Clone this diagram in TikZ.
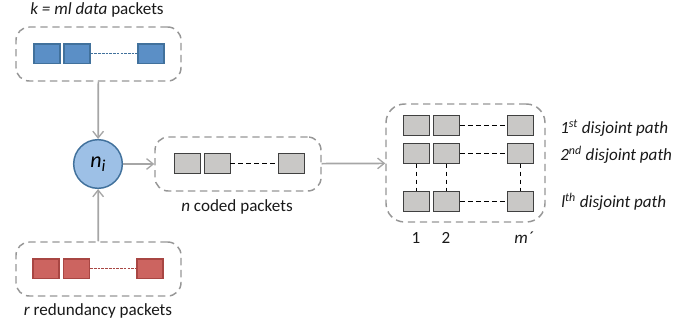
\documentclass[tikz,border=0pt]{standalone}
\usepackage{fontspec}
\setmainfont{Carlito}
\usetikzlibrary{arrows.meta}
\definecolor{grayline}{HTML}{A6A6A6}
\definecolor{dashline}{HTML}{969696}
\definecolor{bluefill}{HTML}{5B8FC6}
\definecolor{blueline}{HTML}{41719C}
\definecolor{redfill}{HTML}{CC6460}
\definecolor{redline}{HTML}{A84643}
\definecolor{grayfill}{HTML}{C9C8C6}
\definecolor{circfill}{HTML}{9DC0E6}
\tikzset{
  x=0.75pt,y=-0.75pt,
  group/.style={draw=dashline,line width=1.1pt,dash pattern=on 5.5pt off 3.5pt,rounded corners=10pt,inner sep=0,minimum width=#1*0.75pt},
  bluepk/.style={draw=blueline,fill=bluefill,line width=1pt,inner sep=0,minimum width=19.5pt,minimum height=14.5pt},
  redpk/.style={draw=redline,fill=redfill,line width=1pt,inner sep=0,minimum width=19.5pt,minimum height=14.5pt},
  graypk/.style={draw=black!75,fill=grayfill,line width=0.7pt,inner sep=0,minimum width=19.5pt,minimum height=14.5pt},
  flow/.style={draw=grayline,line width=1.3pt,-{Straight Barb[length=5pt,width=8pt,line width=1pt]}},
  link/.style={black,line width=0.95pt,dash pattern=on 3.6pt off 2.4pt},
  bluelink/.style={blueline,line width=0.8pt,dash pattern=on 2pt off 0.8pt},
  redlink/.style={redline,line width=0.8pt,dash pattern=on 2pt off 0.8pt},
  lab/.style={inner sep=0,text=black!90,font=\fontsize{12.8}{15}\selectfont},
}
\begin{document}
\begin{tikzpicture}
\useasboundingbox (0,0) rectangle (700,325);
% groups
\node[group=165,minimum height=40.5pt] (top) at (98.5,54) {};
\node[group=166,minimum height=40.5pt] (cod) at (238,164) {};
\node[group=165,minimum height=40.5pt] (red) at (98.5,269) {};
\node[group=159,minimum height=88.5pt,rounded corners=14pt] (big) at (465.5,163) {};
% circle
\node[circle,draw=blueline,fill=circfill,line width=1.1pt,minimum size=36.5pt,inner sep=0] (ni) at (98,164) {\fontsize{16.5}{18}\selectfont\textit{n}\raisebox{-3pt}{\fontsize{12.5}{15}\selectfont\textit{i}}};
% blue
\node[bluepk] (b1) at (47,53.5) {};
\node[bluepk] (b2) at (77,53.5) {};
\node[bluepk] (b3) at (151,53.5) {};
\draw[bluelink] (b2) -- (b3);
% red
\node[redpk] (r1) at (46,268.5) {};
\node[redpk] (r2) at (76.5,268.5) {};
\node[redpk] (r3) at (150,268.5) {};
\draw[redlink] (r2) -- (r3);
% coded
\node[graypk] (k1) at (187,163.5) {};
\node[graypk] (k2) at (217,163.5) {};
\node[graypk] (k3) at (291,163.5) {};
\draw[link] (k2) -- (k3);
% matrix
\foreach \n/\yy in {ma/125.5,mb/153.5,mc/201.5}{
  \node[graypk] (\n1) at (416.5,\yy) {};
  \node[graypk] (\n2) at (446.5,\yy) {};
  \node[graypk] (\n3) at (520.5,\yy) {};
  \draw[link] (\n2) -- (\n3);
}
\draw[link] (mb1) -- (mc1);
\draw[link] (mb2) -- (mc2);
\draw[link] (mb3) -- (mc3);
% flows
\draw[flow] (top) -- (ni);
\draw[flow] (red) -- (ni);
\draw[flow] (ni) -- (cod);
\draw[flow] (cod) -- (big);
% labels
\node[lab] (ltop) at (97,10) {\textit{k = ml data} packets};
\node[lab] (lcod) at (237,207) {\textit{n} coded packets};
\node[lab] (lred) at (98,311) {\textit{r} redundancy packets};
\node[lab,anchor=west] (p1) at (560,128) {\textit{1\textsuperscript{st} disjoint path}};
\node[lab,anchor=west] (p2) at (560,155) {\textit{2\textsuperscript{nd} disjoint path}};
\node[lab,anchor=west] (p3) at (561,202) {\textit{l\textsuperscript{th} disjoint path}};
\node[lab] (n1) at (416,238) {1};
\node[lab] (n2) at (446,238) {2};
\node[lab] (n3) at (524,238) {\textit{m´}};
\end{tikzpicture}
\end{document}
